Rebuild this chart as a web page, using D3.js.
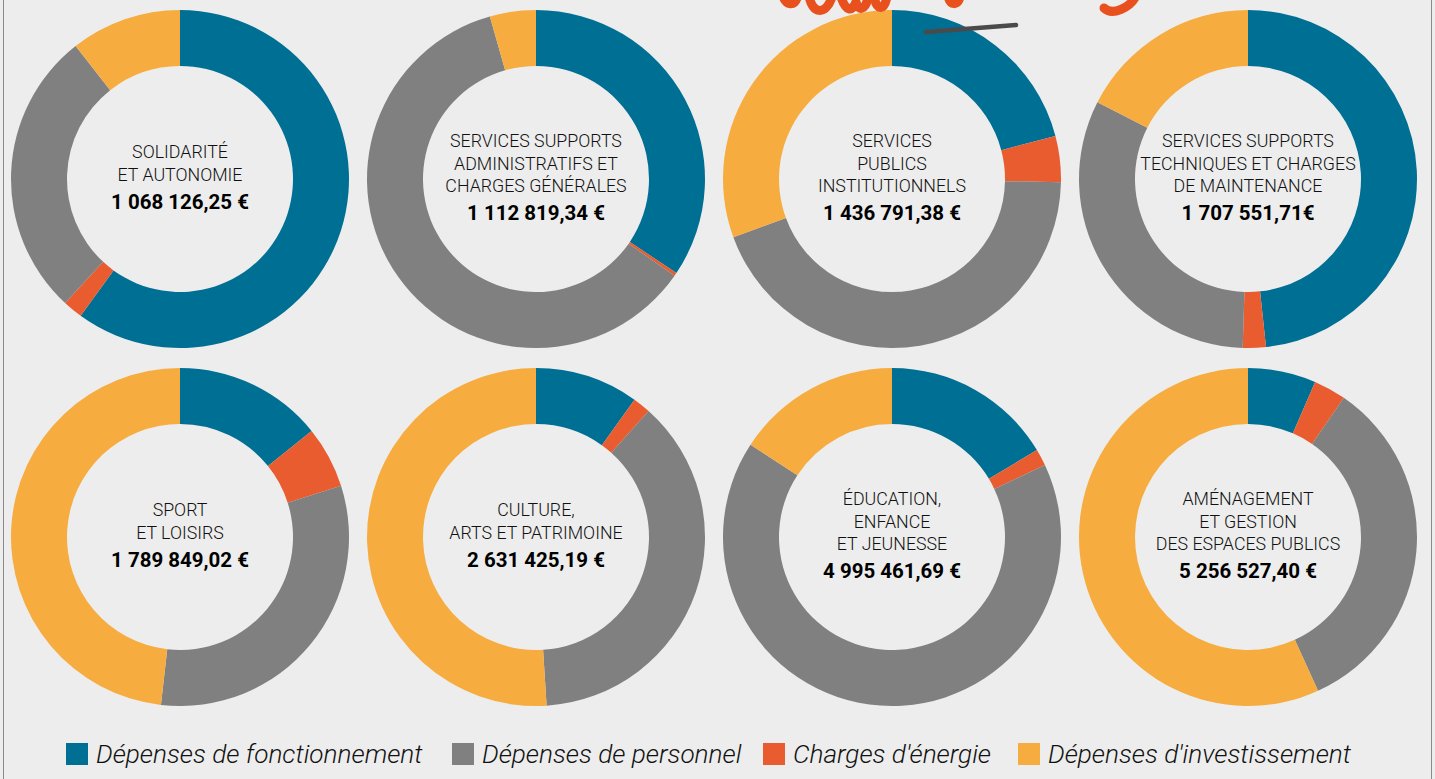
<!DOCTYPE html>
<html lang="fr">
<head>
  <meta charset="UTF-8">
  <title>Dépenses par politique publique</title>
  <style>
    body { margin: 0; background: #ededed; }
    svg { display: block; }
  </style>
</head>
<body>
  <svg id="svg" width="1435" height="779"></svg>

  <script src="https://d3js.org/d3.v7.min.js"></script>
  <script>
    // ------ DATA ------------------------
    const categories = [
      'Dépenses de fonctionnement',
      "Charges d'énergie",
      'Dépenses de personnel',
      "Dépenses d'investissement"
    ]
    // legend order is not the same as slice order
    const legendOrder = [0, 2, 1, 3]
    const colors = ['#006f94', '#e95c30', '#808080', '#f6ac3f']

    const titles = [
      ['SOLIDARITÉ', 'ET AUTONOMIE'],
      ['SERVICES SUPPORTS', 'ADMINISTRATIFS ET', 'CHARGES GÉNÉRALES'],
      ['SERVICES', 'PUBLICS', 'INSTITUTIONNELS'],
      ['SERVICES SUPPORTS', 'TECHNIQUES ET CHARGES', 'DE MAINTENANCE'],
      ['SPORT', 'ET LOISIRS'],
      ['CULTURE,', 'ARTS ET PATRIMOINE'],
      ['ÉDUCATION,', 'ENFANCE', 'ET JEUNESSE'],
      ['AMÉNAGEMENT', 'ET GESTION', 'DES ESPACES PUBLICS']
    ]
    const totals = [
      '1 068 126,25 €', '1 112 819,34 €', '1 436 791,38 €', '1 707 551,71€',
      '1 789 849,02 €', '2 631 425,19 €', '4 995 461,69 €', '5 256 527,40 €'
    ]

    // shares in %
    const fonctionnement = [60.0, 34.4, 20.9, 48.3, 14.2, 9.9, 16.4, 6.5]
    const energie        = [1.9, 0.3, 4.4, 2.2, 5.9, 1.7, 1.6, 3.1]
    const personnel      = [27.5, 60.9, 44.1, 32.0, 31.7, 37.4, 66.2, 33.6]
    const investissement = [10.6, 4.4, 30.6, 17.5, 48.2, 51.0, 15.8, 56.8]

    const series = [fonctionnement, energie, personnel, investissement]

    // CONSTANTS
    const width = 1435
    const height = 779
    const outerR = 169
    const innerR = 113

    const svg = d3.select('#svg')

    // ------ SCALES ------------------------
    const xscale = d3.scaleBand().domain([0, 1, 2, 3]).range([2, 1426])
    const yscale = d3.scaleBand().domain([0, 1]).range([0, 716])
    const colorScale = d3.scaleOrdinal().domain(d3.range(4)).range(colors)

    const pie = d3.pie().sort(null).value(d => d.value)
    const arc = d3.arc().innerRadius(innerR).outerRadius(outerR)

    // frame
    svg.append('line')
      .attr('x1', 3.5).attr('x2', 3.5).attr('y1', 0).attr('y2', height)
      .attr('stroke', '#8a8a8a').attr('stroke-width', 1)
    svg.append('line')
      .attr('x1', 1431.5).attr('x2', 1431.5).attr('y1', 0).attr('y2', height)
      .attr('stroke', '#8a8a8a').attr('stroke-width', 1)

    // ---------- DRAW -------------------------------
    titles.forEach((lines, i) => {
      const cx = xscale(i % 4) + xscale.bandwidth() / 2
      const cy = yscale(Math.floor(i / 4)) + yscale.bandwidth() / 2
      const slices = series.map((s, k) => ({ key: k, value: s[i] }))

      const g = svg.append('g').attr('transform', `translate(${cx}, ${cy})`)

      g.selectAll('path')
        .data(pie(slices))
        .enter()
        .append('path')
        .attr('d', arc)
        .attr('fill', d => colorScale(d.data.key))

      const lineH = 22.5
      const start = -2 - ((lines.length - 1) * lineH + 27) / 2

      g.selectAll('text.title')
        .data(lines)
        .enter()
        .append('text')
        .attr('class', 'title')
        .attr('x', 0)
        .attr('y', (d, j) => start + j * lineH)
        .attr('dy', '0.35em')
        .attr('text-anchor', 'middle')
        .style('font-family', 'Roboto')
        .style('font-weight', 300)
        .style('font-size', '17.8px')
        .style('fill', '#111')
        .text(d => d)

      g.append('text')
        .attr('x', 0)
        .attr('y', start + (lines.length - 1) * lineH + 27)
        .attr('dy', '0.35em')
        .attr('text-anchor', 'middle')
        .style('font-family', 'Roboto')
        .style('font-weight', 700)
        .style('font-size', '20.5px')
        .style('fill', '#000')
        .text(totals[i])
    })

    // decorative title scribble, cut by the top edge
    const scribble = [
      'M783,-4 C786,6 795,6 797,-2',
      'M809,-4 C812,14 826,16 832,-3',
      'M841,-3 C846,12 852,12 856,2 C858,12 866,10 868,-3',
      'M874,-4 C876,10 884,12 887,-3',
      'M948,-4 C950,6 958,6 960,-3',
      'M1104,8 C1112,16 1130,8 1136,-4'
    ]
    svg.append('g')
      .selectAll('path')
      .data(scribble)
      .enter()
      .append('path')
      .attr('d', d => d)
      .attr('fill', 'none')
      .attr('stroke', '#e8501e')
      .attr('stroke-width', 9)
      .attr('stroke-linecap', 'round')
      .attr('stroke-linejoin', 'round')

    svg.append('line')
      .attr('x1', 926).attr('y1', 32).attr('x2', 1016).attr('y2', 25)
      .attr('stroke', '#4a4a4a')
      .attr('stroke-width', 4.5)
      .attr('stroke-linecap', 'round')

    // ------ LEGEND ------------------------
    const legendX = [66, 452, 763, 1018]
    const legend = svg.append('g')
    const items = legend.selectAll('g')
      .data(legendOrder)
      .enter()
      .append('g')
      .attr('transform', (d, i) => `translate(${legendX[i]}, 743)`)

    items.append('rect')
      .attr('width', 22).attr('height', 22)
      .attr('fill', d => colorScale(d))

    items.append('text')
      .attr('x', 30)
      .attr('y', 11)
      .attr('dy', '0.35em')
      .style('font-family', 'Roboto')
      .style('font-style', 'italic')
      .style('font-weight', 300)
      .style('font-size', '26.2px')
      .style('fill', '#111')
      .text(d => categories[d])
  </script>
</body>
</html>
